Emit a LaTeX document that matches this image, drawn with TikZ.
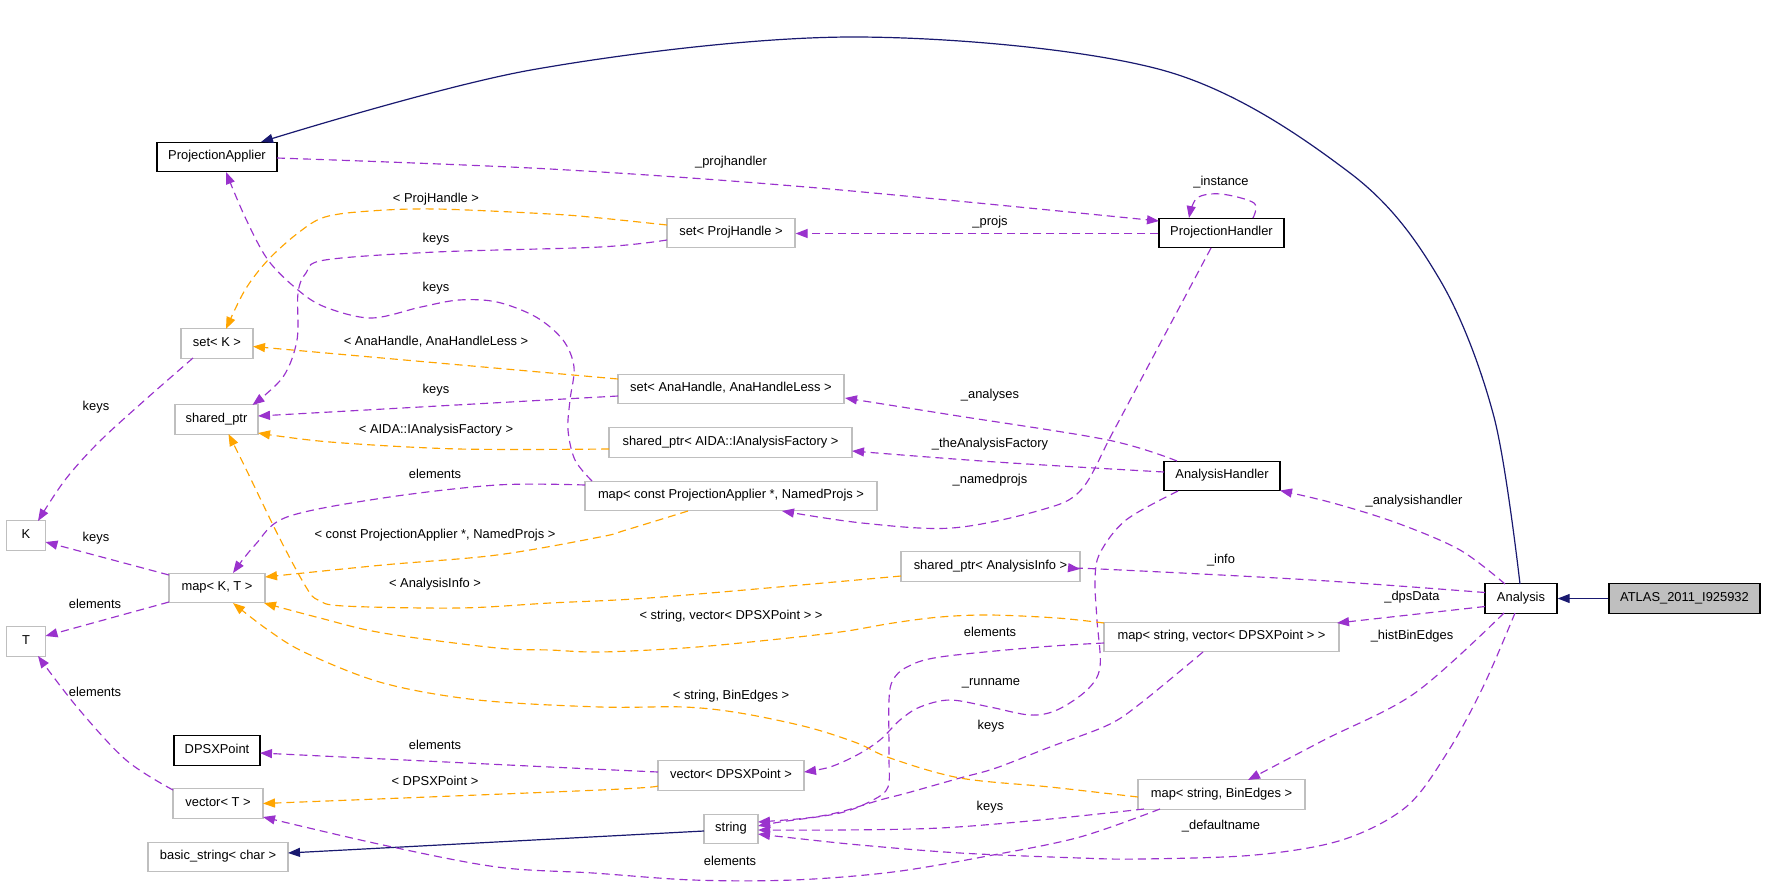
\documentclass[tikz,border=0pt]{standalone}
\usepackage{fontspec}
\setmainfont{Liberation Sans}
\usetikzlibrary{arrows.meta,calc}
\definecolor{edgenavy}{HTML}{191970}
\definecolor{edgepurple}{HTML}{9A32CD}
\definecolor{edgeorange}{HTML}{FFA500}
\definecolor{boxgrey}{HTML}{BFBFBF}
\begin{document}
\begin{tikzpicture}[x=1pt,y=-1pt,
  base/.style={rectangle, inner sep=0pt, minimum height=29.5pt, text height=9pt, text depth=3.5pt, font=\fontsize{12.9}{15}\selectfont, fill=white},
  bbox/.style={base, draw=black, line width=1.4pt},
  gbox/.style={base, draw=boxgrey, line width=1.2pt},
  hbox/.style={base, draw=black, line width=1.4pt, fill=boxgrey},
  lbl/.style={inner sep=0pt, text height=9pt, text depth=3.5pt, font=\fontsize{12.9}{15}\selectfont},
  tipstyle/.style={-{Triangle[length=12pt,width=9pt]}},
  usage/.style={draw=edgepurple, line width=1.15pt, dash pattern=on 8pt off 5pt, tipstyle},
  tmpl/.style={draw=edgeorange, line width=1.15pt, dash pattern=on 8pt off 5pt, tipstyle},
  inh/.style={draw=edgenavy, line width=1.2pt, tipstyle},
  sm/.style={smooth, tension=0.55}]
\fill[white] (0,0) rectangle (1765,892);
\useasboundingbox (0,0) rectangle (1765,892);

% nodes
\node[bbox, minimum width=120pt] (pa) at (217,157) {ProjectionApplier};
\node[gbox, minimum width=128pt] (sph) at (731,233) {set< ProjHandle >};
\node[bbox, minimum width=125pt] (ph) at (1221.5,233) {ProjectionHandler};
\node[gbox, minimum width=72pt] (setk) at (217,343.5) {set< K >};
\node[gbox, minimum width=83pt] (sp) at (216.5,419.5) {shared\_ptr};
\node[gbox, minimum width=226pt] (sah) at (731,389) {set< AnaHandle, AnaHandleLess >};
\node[gbox, minimum width=243pt] (spaida) at (730.5,442.5) {shared\_ptr< AIDA::IAnalysisFactory >};
\node[gbox, minimum width=292pt] (mcpa) at (731,496) {map< const ProjectionApplier *, NamedProjs >};
\node[bbox, minimum width=116pt] (ah) at (1222,476) {AnalysisHandler};
\node[gbox, minimum width=39pt] (k) at (26,535.5) {K};
\node[gbox, minimum width=96pt] (mkt) at (217,588) {map< K, T >};
\node[gbox, minimum width=39pt] (t) at (26,641.5) {T};
\node[bbox, minimum width=86pt] (dps) at (217,750.5) {DPSXPoint};
\node[gbox, minimum width=90pt] (vt) at (218,803.5) {vector< T >};
\node[gbox, minimum width=140pt] (bs) at (218,857) {basic\_string< char >};
\node[gbox, minimum width=179pt] (spai) at (990.5,566.5) {shared\_ptr< AnalysisInfo >};
\node[gbox, minimum width=235pt] (msv) at (1221.5,637) {map< string, vector< DPSXPoint > >};
\node[gbox, minimum width=146pt] (vdps) at (731,775.5) {vector< DPSXPoint >};
\node[gbox, minimum width=54pt] (str) at (731,829) {string};
\node[gbox, minimum width=167pt] (msb) at (1221.5,794.5) {map< string, BinEdges >};
\node[bbox, minimum width=72pt] (an) at (1521,598.5) {Analysis};
\node[hbox, minimum width=151pt] (atlas) at (1684.5,598.5) {ATLAS\_2011\_I925932};

% inheritance
\draw[inh] plot[sm] coordinates {($(an)+(-1,-14.5)$) (1494,417) (1440,280) (1350,173) (1162,70) (853,37) (531,70) ($(pa)+(44,-15)$)};
\draw[inh] (atlas.west) -- (an.east);
\draw[inh] ($(str)+(-27,2)$) -- ($(bs)+(70,-4)$);

% usage (purple)
\draw[usage] plot[sm] coordinates {($(pa)+(60,1)$) (550,169) (818,188) ($(ph)+(-62.5,-12)$)};
\draw[usage] plot[sm] coordinates {($(ph)+(31.5,-15)$) (1254,203) (1221,194) (1197,198) ($(ph)+(-32.5,-15)$)};
\draw[usage] ($(ph.west)+(0,0.5)$) -- ($(sph.east)+(0,0.5)$);
\draw[usage] plot[sm] coordinates {($(sph)+(-64,7)$) (600,247) (436,252) (325,260) (306,273) (298,293) (297,340) (283,377) ($(sp)+(36,-14.5)$)};
\draw[usage] plot[sm] coordinates {($(mcpa)+(-139,-15)$) (575,460) (568,430) (570,400) (574,367) (563,340) (536,317) (497,302) (459,300) (421,307) (371,318) (325,307) (298,290) (268,260) (245,217) ($(pa)+(9,15)$)};
\draw[usage] ($(sah)+(-113,7)$) -- ($(sp)+(41.5,-3.5)$);
\draw[usage] plot[sm] coordinates {($(ah)+(-45,-15)$) (1108,440) (952,415) ($(sah)+(114,9)$)};
\draw[usage] plot[sm] coordinates {($(ah)+(-58,-4)$) (996,462) ($(spaida)+(121.5,8.5)$)};
\draw[usage] plot[sm] coordinates {($(ph)+(-10.5,15)$) (1162,340) (1113,432) (1081,490) (1041,510) (952,528) (862,523) ($(mcpa)+(51,15)$)};
\draw[usage] plot[sm] coordinates {($(mcpa)+(-146,-11)$) (497,485) (383,498) (287,517) (255,545) ($(mkt)+(16,-15)$)};
\draw[usage] ($(mkt)+(-48,-13)$) -- ($(k)+(19.5,6.5)$);
\draw[usage] ($(mkt)+(-48,14)$) -- ($(t)+(19.5,-5.5)$);
\draw[usage] plot[sm] coordinates {($(setk)+(-24,14.5)$) (145,400) (99,442) (65,480) ($(k)+(12,-14.5)$)};
\draw[usage] plot[sm] coordinates {($(vt)+(-45,-13.5)$) (126,760) (77,707) ($(t)+(12,14.5)$)};
\draw[usage] plot[sm] coordinates {($(vdps)+(-73,-3.5)$) (550,767) ($(dps)+(43,2.5)$)};
\draw[usage] plot[sm] coordinates {($(msb)+(-61.5,14.5)$) (1080,837) (993,855) (893,872) (793,880) (693,880) (593,873) (497,867) (383,845) ($(vt)+(45,13.5)$)};
\draw[usage] plot[sm] coordinates {($(msv)+(-117.5,6)$) (1040,647) (940,657) (907,667) (893,680) (889,700) (889,757) (888,787) (873,800) (840,813) (780,822) ($(str)+(27,-3)$)};
\draw[usage] plot[sm] coordinates {($(ah)+(-44,15)$) (1126,520) (1100,553) (1095,580) (1097,620) (1100,667) (1087,690) (1057,710) (1030,715) (990,707) (950,700) (920,707) (900,720) (880,740) (857,755) (830,767) ($(vdps)+(73,-3.5)$)};
\draw[usage] plot[sm] coordinates {($(msv)+(-18.5,15)$) (1141,703) (1108,725) (1050,747) (996,768) (960,778) (907,793) (880,800) (840,812) (807,818) ($(str)+(27,-7)$)};
\draw[usage] plot[sm] coordinates {($(msb)+(-77.5,14.5)$) (1040,820) (940,828) (840,830) ($(str)+(27,1)$)};
\draw[usage] plot[sm] coordinates {($(an)+(-6,14.5)$) (1483,687) (1447,753) (1406,807) (1342,840) (1255,855) (1141,859) (1080,858) (960,853) (860,845) (793,838) ($(str)+(27,5)$)};
\draw[usage] plot[sm] coordinates {($(an)+(-16,-14.5)$) (1460,550) (1397,523) (1333,503) ($(ah)+(58,14.5)$)};
\draw[usage] plot[sm] coordinates {($(an)+(-36,-6)$) (1312,580) (1100,569) ($(spai)+(89.5,2.5)$)};
\draw[usage] ($(an)+(-36,8)$) -- ($(msv)+(115.5,-14)$);
\draw[usage] plot[sm] coordinates {($(an)+(-17,14.5)$) (1415,693) (1324,740) ($(msb)+(26.5,-14.5)$)};

% template instances (orange)
\draw[tmpl] plot[sm] coordinates {($(sph)+(-64,-8)$) (600,218) (550,214) (436,209) (370,211) (325,217) (298,233) (268,260) (245,290) ($(setk)+(9,-14.5)$)};
\draw[tmpl] ($(sah)+(-113,-10)$) -- ($(setk)+(36,3)$);
\draw[tmpl] plot[sm] coordinates {($(spaida)+(-121.5,6.5)$) (459,449) (330,442) ($(sp)+(41.5,13.5)$)};
\draw[tmpl] plot[sm] coordinates {($(spai)+(-89.5,9.5)$) (662,597) (550,603) (459,608) (344,606) (318,600) (306,587) (279,537) (245,467) ($(sp)+(12,14.5)$)};
\draw[tmpl] plot[sm] coordinates {($(mcpa)+(-43,15)$) (626,530) (600,537) (497,555) (383,565) ($(mkt)+(48,-11)$)};
\draw[tmpl] plot[sm] coordinates {($(msv)+(-117.5,-14)$) (1057,618) (990,615) (940,617) (893,623) (840,632) (760,641) (684,648) (600,652) (550,650) (497,648) (383,633) (320,618) ($(mkt)+(47,15)$)};
\draw[tmpl] plot[sm] coordinates {($(msb)+(-83.5,2.5)$) (1050,787) (960,778) (890,758) (857,743) (807,727) (740,713) (684,707) (600,707) (478,700) (383,683) (306,653) (268,630) ($(mkt)+(16,15)$)};
\draw[tmpl] plot[sm] coordinates {($(vdps)+(-73,10.5)$) (600,790) ($(vt)+(45,0)$)};

% labels
\node[lbl] (l1) at (731,163) {\_projhandler};
\node[lbl] (l2) at (1221,183) {\_instance};
\node[lbl] (l3) at (990,223) {\_projs};
\node[lbl] (l4) at (436,200) {< ProjHandle >};
\node[lbl] (l5) at (436,240) {keys};
\node[lbl] (l6) at (436,289) {keys};
\node[lbl] (l7) at (436,343) {< AnaHandle, AnaHandleLess >};
\node[lbl] (l8) at (436,391) {keys};
\node[lbl] (l9) at (436,431) {< AIDA::IAnalysisFactory >};
\node[lbl] (l10) at (990,396) {\_analyses};
\node[lbl] (l11) at (990,445) {\_theAnalysisFactory};
\node[lbl] (l12) at (990,481) {\_namedprojs};
\node[lbl] (l13) at (435,476) {elements};
\node[lbl] (l14) at (435,536) {< const ProjectionApplier *, NamedProjs >};
\node[lbl] (l15) at (96,539) {keys};
\node[lbl] (l16) at (96,408) {keys};
\node[lbl] (l17) at (95,606) {elements};
\node[lbl] (l18) at (95,694) {elements};
\node[lbl] (l19) at (435,585) {< AnalysisInfo >};
\node[lbl] (l20) at (1414,502) {\_analysishandler};
\node[lbl] (l21) at (1221,561) {\_info};
\node[lbl] (l22) at (1412,598) {\_dpsData};
\node[lbl] (l23) at (1412,637) {\_histBinEdges};
\node[lbl] (l24) at (731,617) {< string, vector< DPSXPoint > >};
\node[lbl] (l25) at (990,634) {elements};
\node[lbl] (l26) at (991,683) {\_runname};
\node[lbl] (l27) at (731,697) {< string, BinEdges >};
\node[lbl] (l28) at (991,727) {keys};
\node[lbl] (l29) at (435,747) {elements};
\node[lbl] (l30) at (435,783) {< DPSXPoint >};
\node[lbl] (l31) at (990,808) {keys};
\node[lbl] (l32) at (1221,827) {\_defaultname};
\node[lbl] (l33) at (730,863) {elements};
\end{tikzpicture}
\end{document}
